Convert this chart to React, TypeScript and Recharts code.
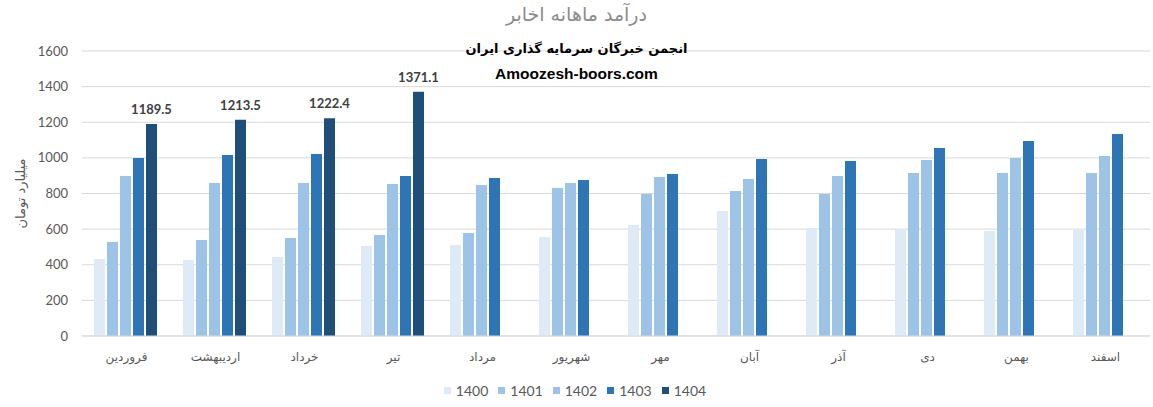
import React from "react";
import {
  BarChart,
  Bar,
  XAxis,
  YAxis,
  CartesianGrid,
  Legend,
  LabelList,
} from "recharts";

const months = [
  "فروردین",
  "اردیبهشت",
  "خرداد",
  "تیر",
  "مرداد",
  "شهریور",
  "مهر",
  "آبان",
  "آذر",
  "دی",
  "بهمن",
  "اسفند",
];

const y1400 = [432, 427, 444, 505, 511, 556, 623, 702, 606, 601, 589, 595];
const y1401 = [528, 539, 550, 567, 578, 831, 797, 814, 797, 915, 915, 915];
const y1402 = [898, 859, 859, 853, 848, 859, 893, 881, 898, 988, 999, 1011];
const y1403 = [999, 1016, 1022, 898, 887, 876, 909, 994, 982, 1055, 1095, 1134];
const y1404: (number | null)[] = [
  1189.5, 1213.5, 1222.4, 1371.1, null, null, null, null, null, null, null, null,
];

const yTicks = [0, 200, 400, 600, 800, 1000, 1200, 1400, 1600];

const seriesNames = ["1400", "1401", "1402", "1403", "1404"];
const colors = ["#DEEAF6", "#9DC3E6", "#9DC3E6", "#2E75B6", "#1F4E79"];

const data = months.map((m, i) => ({
  month: m,
  "1400": y1400[i],
  "1401": y1401[i],
  "1402": y1402[i],
  "1403": y1403[i],
  "1404": y1404[i],
}));

const numFont = "Lato, 'DejaVu Sans', sans-serif";

function LegendBox() {
  return (
    <div
      style={{
        display: "flex",
        justifyContent: "center",
        gap: 10,
        paddingTop: 12,
        height: 24,
        fontFamily: numFont,
        fontSize: 14,
        color: "#595959",
      }}
    >
      {seriesNames.map((n, i) => (
        <div key={n} style={{ display: "flex", alignItems: "center" }}>
          <span
            style={{
              display: "inline-block",
              width: 7,
              height: 7,
              background: colors[i],
              marginRight: 5,
            }}
          />
          <span>{n}</span>
        </div>
      ))}
    </div>
  );
}

export default function App() {
  return (
    <div
      style={{
        position: "absolute",
        left: 0,
        top: 0,
        width: 1153,
        height: 407,
        background: "#fff",
      }}
    >
      <div
        style={{
          position: "absolute",
          top: 3,
          width: 1153,
          textAlign: "center",
          fontFamily: "'DejaVu Sans', sans-serif",
          fontSize: 19,
          color: "#8c8c8c",
          direction: "rtl",
        }}
      >
        درآمد ماهانه  اخابر
      </div>
      <BarChart
        width={1153}
        height={407}
        data={data}
        margin={{ top: 51, right: 3, left: 0, bottom: 5 }}
        barCategoryGap={12}
        barGap={2}
      >
        <CartesianGrid vertical={false} stroke="#d9d9d9" />
        <XAxis
          dataKey="month"
          axisLine={{ stroke: "#d9d9d9" }}
          tickLine={false}
          height={30}
          tickMargin={10}
          tick={{ fontSize: 12, fill: "#595959", fontFamily: "'DejaVu Sans', sans-serif" }}
          interval={0}
        />
        <YAxis
          width={82}
          domain={[0, 1600]}
          ticks={yTicks}
          axisLine={false}
          tickLine={false}
          tickMargin={8}
          tick={{ fontSize: 13, fill: "#595959", fontFamily: numFont }}
          label={{
            value: "میلیارد تومان",
            angle: -90,
            position: "insideLeft",
            offset: 20,
            style: {
              fontSize: 13,
              fill: "#595959",
              fontFamily: "'DejaVu Sans', sans-serif",
              textAnchor: "middle",
            },
          }}
        />
        <Legend verticalAlign="bottom" height={36} content={() => <LegendBox />} />
        {seriesNames.map((n, i) => (
          <Bar key={n} dataKey={n} fill={colors[i]} isAnimationActive={false}>
            {n === "1404" && (
              <LabelList
                dataKey={n}
                position="top"
                offset={10}
                style={{
                  fontSize: 13,
                  fontWeight: 700,
                  fill: "#404040",
                  fontFamily: numFont,
                }}
              />
            )}
          </Bar>
        ))}
      </BarChart>
      <div
        style={{
          position: "absolute",
          top: 41,
          width: 1153,
          textAlign: "center",
          fontFamily: "'DejaVu Sans', sans-serif",
          fontWeight: 700,
          fontSize: 13,
          color: "#000",
          direction: "rtl",
        }}
      >
        انجمن خبرگان سرمایه گذاری ایران
      </div>
      <div
        style={{
          position: "absolute",
          top: 65,
          width: 1153,
          textAlign: "center",
          fontFamily: "'Liberation Sans', Arial, sans-serif",
          fontWeight: 700,
          fontSize: 15.5,
          color: "#000",
        }}
      >
        Amoozesh-boors.com
      </div>
    </div>
  );
}
